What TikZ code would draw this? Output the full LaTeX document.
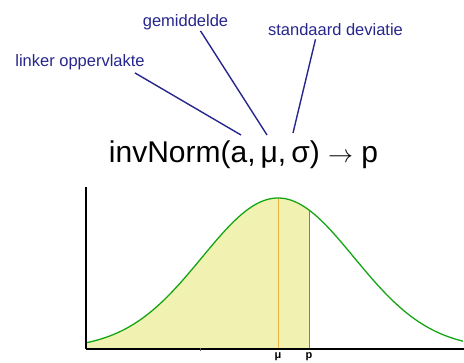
\documentclass[tikz,border=0pt]{standalone}
\usepackage{fontspec}
\setmainfont{Liberation Sans}
\usetikzlibrary{positioning}
\definecolor{invNavy}{RGB}{38, 38, 140}
\definecolor{invGreen}{RGB}{20, 165, 20}
\definecolor{invYellow}{RGB}{241, 241, 178}
\definecolor{invOrange}{RGB}{232, 176, 60}
\definecolor{invBlue}{RGB}{40, 150, 215}

\begin{document}
\begin{tikzpicture}[
  x=1pt, y=-1pt,
  labeltext/.style={
    inner sep=0pt,
    text=invNavy,
    font=\fontsize{16.5}{19}\selectfont
  },
  pointer/.style={invNavy,line width=1.4pt},
  ticklabel/.style={inner sep=0pt,font=\bfseries\fontsize{11}{12}\selectfont}
]
  \useasboundingbox (0,0) rectangle (464,363);

  % formula and its arguments
  \node[anchor=base,inner sep=0pt,font=\fontsize{30}{36}\selectfont] (formula) at (243.5,163)
    {invNorm(a,\,μ,\,σ) $\rightarrow$ p};
  \coordinate (arga) at (241,135);
  \coordinate (argmu) at (267,135);
  \coordinate (argsigma) at (293,133);

  \node[labeltext] (linker) at (80,62) {linker oppervlakte};
  \node[labeltext] (gemiddelde) at (185.5,22) {gemiddelde};
  \node[labeltext] (deviatie) at (335.5,30) {standaard deviatie};

  \draw[pointer] ([xshift=-10pt,yshift=-3pt]linker.south east) -- (arga);
  \draw[pointer] ([xshift=15pt,yshift=-1pt]gemiddelde.south) -- (argmu);
  \draw[pointer] ([xshift=-20pt,yshift=-3pt]deviatie.south) -- (argsigma);

  % normal curve with area left of p
  \fill[invYellow] (86,349) -- plot[domain=86:309,samples=80]
    (\x,{349-151*exp(-((\x-278)/107.48)^2)}) -- (309,349) -- cycle;
  \draw[invOrange,line width=1pt] (278,349) -- (278,198);
  \draw[invBlue,line width=1pt] (309,349) -- (309,{349-151*exp(-((309-278)/107.48)^2)});
  \draw[invGreen,line width=1.3pt] plot[domain=86:463,samples=120]
    (\x,{349-151*exp(-((\x-278)/107.48)^2)});

  % axes
  \draw[line width=1.3pt] (86,187) -- (86,349.5);
  \draw[line width=2pt] (85.5,349) -- (464,349);
  \draw[gray!70!black,line width=1pt] (200.5,348) -- (200.5,351);
  \node[ticklabel] (mu) at (278,357) {μ};
  \node[ticklabel] (p) at (309,357) {p};
\end{tikzpicture}
\end{document}
